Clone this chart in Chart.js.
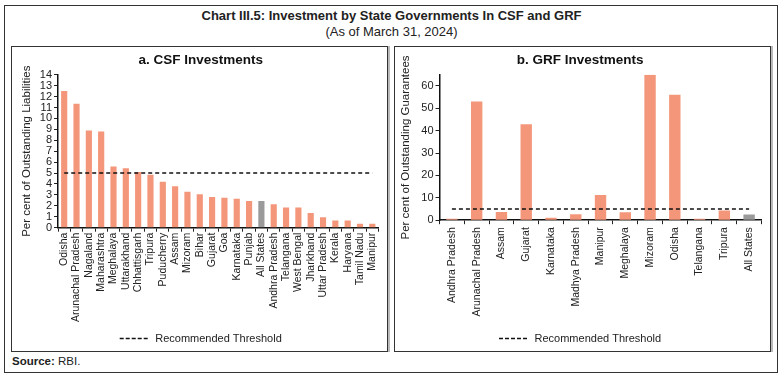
<!DOCTYPE html>
<html>
<head>
<meta charset="utf-8">
<script src="https://cdn.jsdelivr.net/npm/chart.js@4.4.1/dist/chart.umd.min.js"></script>
<style>
  body { margin: 0; background: #fff; font-family: "Liberation Sans", Arial, sans-serif; color: #222; }
  #frame { position: absolute; left: 4px; top: 5px; width: 774px; height: 368px; border: 1.5px solid #333; box-sizing: border-box; }
  .title { position: absolute; left: 0; width: 783px; text-align: center; font-size: 13px; color: #222; }
  .panel { position: absolute; top: 46px; width: 377px; height: 306px; border: 1.5px solid #333; box-sizing: border-box; box-shadow: 2px 0 0 #bbb; }
  .panel canvas { position: absolute; left: 0; top: 0; }
  #source { position: absolute; left: 12px; top: 355px; font-size: 11.5px; }
</style>
</head>
<body>
<div id="frame"></div>
<div class="title" style="top:8px;font-weight:bold;">Chart III.5: Investment by State Governments In CSF and GRF</div>
<div class="title" style="top:24px;">(As of March 31, 2024)</div>
<div class="panel" style="left:11px;"><canvas id="csf" width="374" height="303"></canvas></div>
<div class="panel" style="left:394px;"><canvas id="grf" width="374" height="303"></canvas></div>
<div id="source"><b>Source:</b> RBI.</div>

<script>
// ---- data ----
const csfStates = ['Odisha', 'Arunachal Pradesh', 'Nagaland', 'Maharashtra', 'Meghalaya', 'Uttarakhand',
  'Chhattisgarh', 'Tripura', 'Puducherry', 'Assam', 'Mizoram', 'Bihar', 'Gujarat', 'Goa', 'Karnataka',
  'Punjab', 'All States', 'Andhra Pradesh', 'Telangana', 'West Bengal', 'Jharkhand', 'Uttar Pradesh',
  'Kerala', 'Haryana', 'Tamil Nadu', 'Manipur'];
const csfValues = [12.5, 11.35, 8.9, 8.8, 5.6, 5.45, 5.1, 4.85, 4.2, 3.8, 3.3, 3.05, 2.8, 2.75, 2.65,
  2.45, 2.45, 2.15, 1.85, 1.85, 1.35, 0.95, 0.65, 0.65, 0.35, 0.35];

const grfStates = ['Andhra Pradesh', 'Arunachal Pradesh', 'Assam', 'Gujarat', 'Karnataka', 'Madhya Pradesh',
  'Manipur', 'Meghalaya', 'Mizoram', 'Odisha', 'Telangana', 'Tripura', 'All States'];
const grfValues = [0.6, 53, 3.7, 42.9, 1.1, 2.6, 11.3, 3.5, 65, 56, 0.6, 4.3, 2.5];

const thresholdValue = 5;   // recommended threshold, both panels

const BAR = '#f4967a';
const AVG = '#9a9a9a';
const FONT = "'Liberation Sans', Arial, sans-serif";

// legend: only the threshold, drawn as a dashed line
function legendItems(chart) {
  return Chart.defaults.plugins.legend.labels.generateLabels(chart)
    .filter(item => item.text === 'Recommended Threshold')
    .map(item => Object.assign(item, { lineDash: [4, 2], lineWidth: 1.3 }));
}

function buildChart(id, title, states, values, yTitle, yOpts, pad) {
  const ctx = document.getElementById(id).getContext('2d');
  return new Chart(ctx, {
    data: {
      labels: states,
      datasets: [
        {
          type: 'line',
          label: 'Recommended Threshold',
          data: states.map(() => thresholdValue),
          borderColor: '#111',
          borderWidth: 1.5,
          borderDash: [4, 3],
          pointRadius: 0,
          pointStyle: 'line',
          order: 0
        },
        {
          type: 'bar',
          label: 'value',
          data: values,
          backgroundColor: states.map(s => s === 'All States' ? AVG : BAR),
          categoryPercentage: 1,
          barPercentage: pad.bar,
          order: 1
        }
      ]
    },
    options: {
      responsive: false,
      animation: false,
      devicePixelRatio: 1,
      layout: { padding: { left: pad.left, right: pad.right, top: 0, bottom: -4 } },
      plugins: {
        title: {
          display: true, text: title, color: '#111',
          font: { family: FONT, size: 13.5, weight: 'bold' },
          padding: { top: 5.5, bottom: 6 }
        },
        legend: {
          position: 'bottom',
          labels: {
            generateLabels: legendItems,
            usePointStyle: true, pointStyleWidth: 30, boxWidth: 30, boxHeight: 8, padding: pad.legend,
            color: '#222', font: { family: FONT, size: 11 }
          }
        },
        tooltip: { enabled: false }
      },
      scales: {
        x: {
          grid: { display: true, drawOnChartArea: false, tickLength: 4, color: '#222', lineWidth: 1 },
          border: { color: '#111', width: 1.5 },
          ticks: { color: '#222', font: { family: FONT, size: 10.5 }, maxRotation: 90, minRotation: 90, autoSkip: false, padding: pad.xpad }
        },
        y: Object.assign({
          grid: { display: true, drawOnChartArea: false, tickLength: 4, color: '#222', lineWidth: 1 },
          border: { color: '#111', width: 1.5 },
          title: { display: true, text: yTitle, color: '#222', font: { family: FONT, size: 11.5 }, padding: { top: 0, bottom: pad.ytitle } }
        }, yOpts)
      }
    }
  });
}

buildChart('csf', 'a. CSF Investments', csfStates, csfValues, 'Per cent of Outstanding Liabilities',
  { min: 0, max: 14, ticks: { stepSize: 1, autoSkip: false, color: '#222', font: { family: FONT, size: 11 }, padding: 2 } },
  { left: 7.5, right: 4, ytitle: 4.5, bar: 0.5, legend: 10, xpad: 1 });

buildChart('grf', 'b. GRF Investments', grfStates, grfValues, 'Per cent of Outstanding Guarantees',
  { min: 0, max: 65, ticks: { stepSize: 10, autoSkip: false, includeBounds: false, color: '#222', font: { family: FONT, size: 11 }, padding: 2 } },
  { left: 3.6, right: 7.5, ytitle: 6.9, bar: 0.46, legend: 13.5, xpad: 3 });
</script>
</body>
</html>
